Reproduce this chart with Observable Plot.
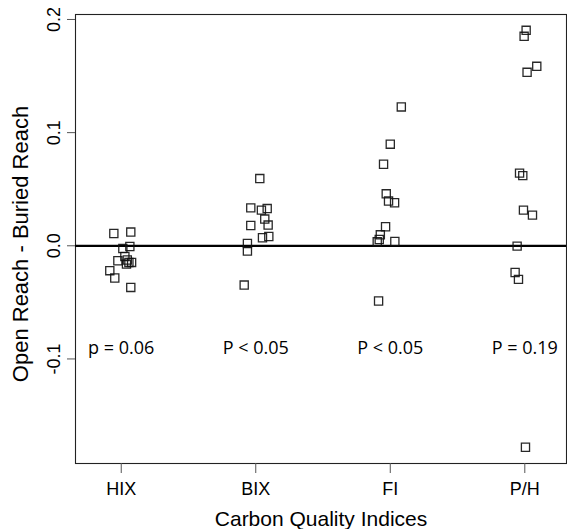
<!DOCTYPE html>
<html>
<head>
<meta charset="utf-8">
<script src="https://cdn.jsdelivr.net/npm/d3@7"></script>
<script src="https://cdn.jsdelivr.net/npm/@observablehq/plot@0.6"></script>
<style>
  html, body { margin: 0; padding: 0; background: #fff; }
  #chart svg { display: block; }
</style>
</head>
<body>
<div id="chart"></div>
<script>
// Categories (x ticks)
const categories = ["HIX", "BIX", "FI", "P/H"];
// p-value annotations
const pLabels = ["p = 0.06", "P < 0.05", "P < 0.05", "P = 0.19"];

// Differences (Open Reach - Buried Reach) per index, with horizontal jitter
const hixValues = [0.0109, 0.0121, -0.0006, -0.0024, -0.0094, -0.0132, -0.0126, -0.0147, -0.0147, -0.0162, -0.0220, -0.0285, -0.0368];
const hixJitter = [-0.055, 0.071, 0.064, 0.012, 0.027, -0.025, 0.045, 0.057, 0.077, 0.039, -0.085, -0.048, 0.071];

const bixValues = [0.0594, 0.0335, 0.0315, 0.0329, 0.0236, 0.0179, 0.0183, 0.0071, 0.0082, 0.0020, -0.0047, -0.0347];
const bixJitter = [0.030, -0.037, 0.042, 0.085, 0.067, -0.037, 0.092, 0.050, 0.097, -0.062, -0.062, -0.086];

const fiValues = [0.1227, 0.0898, 0.0721, 0.0459, 0.0395, 0.0380, 0.0168, 0.0097, 0.0056, 0.0035, 0.0038, -0.0488];
const fiJitter = [0.082, 0.000, -0.050, -0.030, -0.013, 0.032, -0.035, -0.074, -0.082, -0.097, 0.034, -0.087];

const phValues = [0.1904, 0.1851, 0.1586, 0.1533, 0.0642, 0.0620, 0.0315, 0.0271, -0.0003, -0.0236, -0.0297, -0.1780];
const phJitter = [0.010, -0.005, 0.089, 0.017, -0.039, -0.015, -0.010, 0.057, -0.057, -0.072, -0.047, 0.005];

const yTicks = [-0.1, 0.0, 0.1, 0.2];

const groups = [
  [hixValues, hixJitter],
  [bixValues, bixJitter],
  [fiValues, fiJitter],
  [phValues, phJitter]
];
const points = groups.flatMap(([vals, jit], i) =>
  vals.map((v, j) => ({ x: i + 1 + jit[j], y: v, cat: categories[i] }))
);
const annot = pLabels.map((t, i) => ({ x: i + 1, text: t }));

const chart = Plot.plot({
  width: 567,
  height: 529,
  marginLeft: 75,
  marginRight: 1,
  marginTop: 14,
  marginBottom: 66,
  style: { fontFamily: "'Liberation Sans', Arial, sans-serif", background: "#fff", color: "#000" },
  x: { domain: [0.66, 4.31] },
  y: { domain: [-0.1924, 0.2044] },
  marks: [
    Plot.frame({ stroke: "#222", strokeWidth: 1.1 }),
    Plot.axisX({
      ticks: [1, 2, 3, 4],
      tickFormat: d => categories[d - 1],
      tickSize: 10,
      tickPadding: 9,
      fontSize: 18,
      fontFamily: "'Liberation Sans', Arial, sans-serif",
      stroke: "#555",
      label: null
    }),
    Plot.axisY({
      ticks: yTicks,
      tickFormat: d => d.toFixed(1),
      tickSize: 8,
      tickPadding: 13,
      tickRotate: -90,
      textAnchor: "middle",
      lineAnchor: "middle",
      fontSize: 18,
      fontFamily: "'Liberation Sans', Arial, sans-serif",
      stroke: "#555",
      label: null
    }),
    Plot.ruleY([0], { stroke: "#000", strokeWidth: 2.2 }),
    Plot.dot(points, {
      x: "x", y: "y", symbol: "square", r: 4.6,
      stroke: "#111", strokeWidth: 1.3, fill: "none", strokeOpacity: 0.9
    }),
    Plot.text(annot, {
      x: "x", y: () => -0.0905, text: "text",
      fontSize: 18, fontFamily: "'Open Sans', Lato, sans-serif",
      textAnchor: "middle", lineAnchor: "middle", fill: "#000"
    }),
    Plot.text(["Open Reach - Buried Reach"], {
      frameAnchor: "left", dx: -55, dy: 5, rotate: -90,
      fontSize: 22, fontFamily: "'Liberation Sans', Arial, sans-serif",
      textAnchor: "middle", lineAnchor: "middle", fill: "#000"
    }),
    Plot.text(["Carbon Quality Indices"], {
      frameAnchor: "bottom", dy: 56,
      fontSize: 21, fontFamily: "'Liberation Sans', Arial, sans-serif",
      textAnchor: "middle", lineAnchor: "middle", fill: "#000"
    })
  ]
});
document.getElementById("chart").appendChild(chart);
</script>
</body>
</html>
